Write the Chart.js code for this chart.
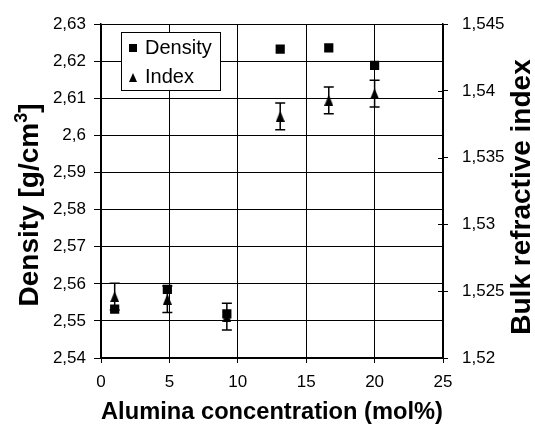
<!DOCTYPE html>
<html lang="en">
<head>
<meta charset="UTF-8">
<title>Density and refractive index vs alumina content</title>
<script src="https://cdn.jsdelivr.net/npm/chart.js"></script>
<style>
  html, body { margin: 0; padding: 0; background: #fff; }
  #wrap { width: 535px; height: 427px; }
</style>
</head>
<body>
<div id="wrap"><canvas id="grafico"></canvas></div>
<script>
// alumina content of each glass (mol%)
var alumina = [1, 4.85, 9.2, 13.1, 16.65, 20];
// measured density (g/cm3)
var density = [2.5532, 2.5585, 2.5519, 2.6233, 2.6236, 2.6189];
// bulk refractive index and its error
var index = [1.5246, 1.5244, 1.5231, 1.5381, 1.5393, 1.5398];
var indexErr = [0.001, 0.001, 0.001, 0.001, 0.001, 0.001];

// axis ticks
var xTicks = [0, 5, 10, 15, 20, 25];
var densityTicks = [2.54, 2.55, 2.56, 2.57, 2.58, 2.59, 2.6, 2.61, 2.62, 2.63];
var indexTicks = [1.52, 1.525, 1.53, 1.535, 1.54, 1.545];

var FONT = 'Liberation Sans, Arial, Helvetica, sans-serif';

// narrow triangle marker used for the index series
function triangle(w, h) {
  var c = document.createElement('canvas');
  c.width = w; c.height = h;
  var g = c.getContext('2d');
  g.fillStyle = '#000';
  g.beginPath();
  g.moveTo(w / 2, 0);
  g.lineTo(w, h);
  g.lineTo(0, h);
  g.closePath();
  g.fill();
  return c;
}
var triMarker = triangle(9, 11);

function comma(v) {
  return String(parseFloat(Number(v).toFixed(3))).replace('.', ',');
}
function setTicks(list) {
  return function (scale) {
    scale.ticks = list.map(function (v) { return { value: v }; });
  };
}

// vertical title read bottom to top; parts = [[text, size, raise], ...]
function verticalTitle(ctx, cx, cy, parts) {
  ctx.save();
  ctx.translate(cx, cy);
  ctx.rotate(-Math.PI / 2);
  ctx.textAlign = 'left';
  ctx.textBaseline = 'alphabetic';
  var total = 0;
  parts.forEach(function (p) {
    ctx.font = 'bold ' + p[1] + 'px ' + FONT;
    p.w = ctx.measureText(p[0]).width;
    total += p.w;
  });
  var x = -total / 2;
  parts.forEach(function (p) {
    ctx.font = 'bold ' + p[1] + 'px ' + FONT;
    ctx.fillText(p[0], x, 10 - p[2]);
    x += p.w;
  });
  ctx.restore();
}

// error bars, inner ticks of the right axis, legend box and the y titles
var extras = {
  id: 'extras',
  beforeDatasetsDraw: function (chart) {
    var ctx = chart.ctx, xs = chart.scales.x, ys = chart.scales.y2;
    ctx.save();
    ctx.strokeStyle = '#000';
    ctx.lineWidth = 1.5;
    alumina.forEach(function (a, i) {
      var px = xs.getPixelForValue(a);
      var top = ys.getPixelForValue(index[i] + indexErr[i]);
      var bot = ys.getPixelForValue(index[i] - indexErr[i]);
      ctx.beginPath();
      ctx.moveTo(px, top); ctx.lineTo(px, bot);
      ctx.moveTo(px - 5, top); ctx.lineTo(px + 5, top);
      ctx.moveTo(px - 5, bot); ctx.lineTo(px + 5, bot);
      ctx.stroke();
    });
    ctx.restore();
  },
  afterDraw: function (chart) {
    var ctx = chart.ctx, y2 = chart.scales.y2, area = chart.chartArea;
    ctx.save();
    ctx.strokeStyle = '#000';
    ctx.lineWidth = 1;
    y2.ticks.forEach(function (t) {
      var py = Math.round(y2.getPixelForValue(t.value)) + 0.5;
      ctx.beginPath();
      ctx.moveTo(area.right - 5, py);
      ctx.lineTo(area.right, py);
      ctx.stroke();
    });

    // legend
    var bx = 121, by = 32, bw = 99, bh = 58;
    ctx.fillStyle = '#fff';
    ctx.fillRect(bx, by, bw, bh);
    ctx.strokeRect(bx + 0.5, by + 0.5, bw, bh);
    ctx.fillStyle = '#000';
    ctx.fillRect(129, 44, 8, 8);
    ctx.drawImage(triangle(8, 9), 129, 73);
    ctx.font = '20px ' + FONT;
    ctx.textAlign = 'left';
    ctx.textBaseline = 'middle';
    ctx.fillText(chart.data.datasets[0].label, 145, 48.5);
    ctx.fillText(chart.data.datasets[1].label, 145, 77.5);
    ctx.restore();

    // y axis titles
    verticalTitle(ctx, 28, 205, [['Density [g/cm', 28, 0], ['3', 18, 11], [']', 28, 0]]);
    verticalTitle(ctx, 520, 197, [['Bulk refractive index', 28, 0]]);
  }
};

var tickFont = { family: FONT, size: 17 };

new Chart(document.getElementById('grafico'), {
  type: 'scatter',
  data: {
    datasets: [{
      label: 'Density',
      data: alumina.map(function (a, i) { return { x: a, y: density[i] }; }),
      yAxisID: 'y',
      pointStyle: 'rect',
      pointRadius: 6.5,
      pointHoverRadius: 6.5,
      backgroundColor: '#000',
      borderColor: '#000',
      borderWidth: 0
    }, {
      label: 'Index',
      data: alumina.map(function (a, i) { return { x: a, y: index[i] }; }),
      yAxisID: 'y2',
      pointStyle: triMarker,
      pointRadius: 6,
      backgroundColor: '#000',
      borderColor: '#000'
    }]
  },
  options: {
    responsive: true,
    maintainAspectRatio: false,
    animation: false,
    devicePixelRatio: 1,
    layout: { padding: { top: 11, left: 0, right: 0, bottom: 0 } },
    plugins: { legend: { display: false }, tooltip: { enabled: false } },
    scales: {
      x: {
        type: 'linear',
        min: 0, max: 25,
        afterBuildTicks: setTicks(xTicks),
        afterFit: function (s) { s.height = 69; },
        grid: { color: '#000', lineWidth: 1, tickLength: 5, tickColor: '#000' },
        border: { color: '#000', width: 1.5 },
        ticks: { color: '#000', font: tickFont, padding: 9, maxRotation: 0 },
        title: {
          display: true,
          text: 'Alumina concentration (mol%)',
          color: '#000',
          font: { family: FONT, size: 24, weight: 'bold' },
          padding: { top: 2, bottom: 0 }
        }
      },
      y: {
        position: 'left',
        min: 2.54, max: 2.63,
        afterBuildTicks: setTicks(densityTicks),
        afterFit: function (s) { s.width = 101; },
        grid: { color: '#000', lineWidth: 1, tickLength: 7, tickColor: '#000' },
        border: { color: '#000', width: 1.5 },
        ticks: { color: '#000', font: tickFont, padding: 8, callback: comma }
      },
      y2: {
        position: 'right',
        min: 1.52, max: 1.545,
        afterBuildTicks: setTicks(indexTicks),
        afterFit: function (s) { s.width = 92; },
        grid: { drawOnChartArea: false, tickLength: 5, tickColor: '#000' },
        border: { color: '#000', width: 1.5 },
        ticks: { color: '#000', font: tickFont, padding: 14, callback: comma }
      }
    }
  },
  plugins: [extras]
});
</script>
</body>
</html>
